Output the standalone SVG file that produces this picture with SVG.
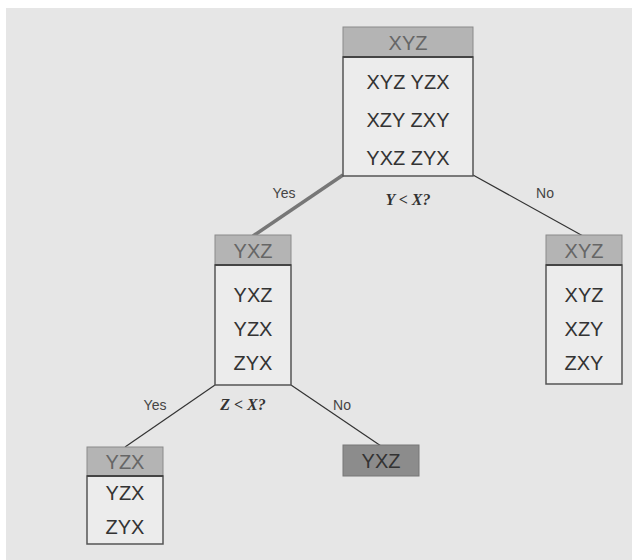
<svg xmlns="http://www.w3.org/2000/svg" width="632" height="560" viewBox="0 0 632 560">
<style>
.hd{fill:#b4b4b4;stroke:#8a8a8a;stroke-width:1}
.bd{fill:#ececec;stroke:#555;stroke-width:1.5}
.sep{stroke:#444;stroke-width:2}
.t{font-family:"Liberation Sans",Arial,sans-serif;font-size:20px;fill:#333;text-anchor:middle}
.th{font-family:"Liberation Sans",Arial,sans-serif;font-size:20px;fill:#666;text-anchor:middle}
.lb{font-family:"Liberation Sans",Arial,sans-serif;font-size:14px;fill:#444;text-anchor:middle}
.q{font-family:"Liberation Serif","Times New Roman",serif;font-size:16px;font-style:italic;font-weight:bold;fill:#333;text-anchor:middle}
.e{stroke:#333;stroke-width:1.2;fill:none}
</style>
<rect x="6" y="8" width="626" height="552" fill="#e6e6e6"/>
<g id="connectors">
<line x1="343" y1="175" x2="253" y2="236" stroke="#777" stroke-width="3.5"/>
<line class="e" x1="473" y1="175" x2="583" y2="236"/>
<line class="e" x1="215" y1="385" x2="125" y2="447"/>
<line class="e" x1="291" y1="385" x2="381" y2="446"/>
<text class="lb" x="284" y="198">Yes</text>
<text class="lb" x="545" y="198">No</text>
<text class="q" x="408" y="205">Y &lt; X?</text>
<text class="lb" x="155" y="410">Yes</text>
<text class="lb" x="342" y="410">No</text>
<text class="q" x="243" y="410">Z &lt; X?</text>
</g>
<g id="root">
<rect class="hd" x="343" y="27" width="130" height="30"/>
<rect class="bd" x="343" y="57" width="130" height="119"/>
<line class="sep" x1="343" y1="57" x2="473" y2="57"/>
<text class="th" x="408" y="50">XYZ</text>
<text class="t" x="408" y="89">XYZ YZX</text>
<text class="t" x="408" y="127">XZY ZXY</text>
<text class="t" x="408" y="165">YXZ ZYX</text>
</g>
<g id="left">
<rect class="hd" x="215" y="235" width="76" height="30"/>
<rect class="bd" x="215" y="265" width="76" height="120"/>
<line class="sep" x1="215" y1="265" x2="291" y2="265"/>
<text class="th" x="253" y="258">YXZ</text>
<text class="t" x="253" y="302">YXZ</text>
<text class="t" x="253" y="336">YZX</text>
<text class="t" x="253" y="370">ZYX</text>
</g>
<g id="right">
<rect class="hd" x="546" y="235" width="76" height="30"/>
<rect class="bd" x="546" y="265" width="76" height="119"/>
<line class="sep" x1="546" y1="265" x2="622" y2="265"/>
<text class="th" x="584" y="258">XYZ</text>
<text class="t" x="584" y="302">XYZ</text>
<text class="t" x="584" y="336">XZY</text>
<text class="t" x="584" y="370">ZXY</text>
</g>
<g id="leftleft">
<rect class="hd" x="87" y="447" width="76" height="29"/>
<rect class="bd" x="87" y="476" width="76" height="68"/>
<line class="sep" x1="87" y1="476" x2="163" y2="476"/>
<text class="th" x="125" y="469">YZX</text>
<text class="t" x="125" y="500">YZX</text>
<text class="t" x="125" y="534">ZYX</text>
</g>
<g id="leftright">
<rect x="343" y="445" width="76" height="31" fill="#8c8c8c" stroke="#777" stroke-width="1"/>
<text class="t" x="381" y="468">YXZ</text>
</g>
</svg>
